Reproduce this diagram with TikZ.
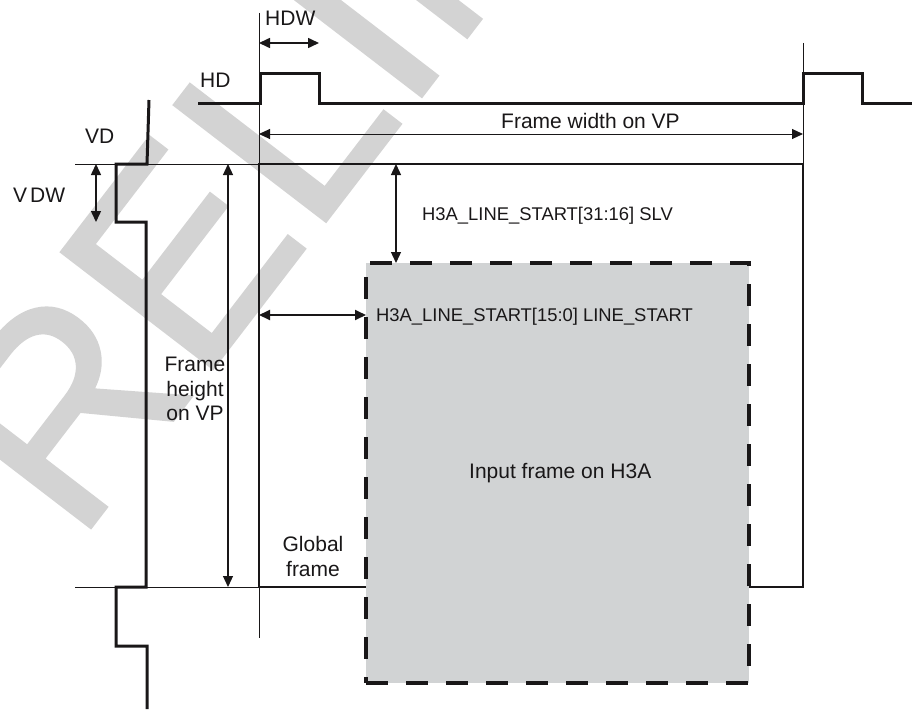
\documentclass[tikz,border=0pt]{standalone}
\usepackage{fontspec}
\setmainfont{Liberation Sans}
\newfontfamily\wmfont[FakeBold=1]{Liberation Sans}
\usetikzlibrary{arrows.meta}
\definecolor{wmgray}{RGB}{211,211,211}
\definecolor{boxgray}{RGB}{209,211,212}
\definecolor{ink}{RGB}{25,23,24}
\begin{document}
\begin{tikzpicture}[x=1pt,y=-1pt,
  thinln/.style={draw=ink,line width=1pt},
  frameln/.style={draw=ink,line width=2pt},
  wave/.style={draw=ink,line width=3pt,line join=miter},
  dimarrow/.style={draw=ink,line width=1.2pt,
     {Triangle[length=11pt,width=10pt]}-{Triangle[length=11pt,width=10pt]}},
  lbl/.style={inner sep=0pt,text=ink,font=\fontsize{21}{24.7}\selectfont},
  slbl/.style={inner sep=0pt,text=ink,font=\fontsize{18.4}{22}\selectfont},
  wmark/.style={rotate=52.5,anchor=base west,inner sep=0pt,text=wmgray,
     font=\wmfont\fontsize{278}{278}\selectfont},
  inbox/.style={fill=boxgray,draw=ink,line width=4pt,dash pattern=on 22pt off 18pt,
     inner sep=0pt,outer sep=0pt,minimum width=383pt,minimum height=420pt,anchor=north west}
]
\useasboundingbox (0,0) rectangle (912,709);
% watermark
\begin{scope}
\clip (0,0) rectangle (912,709);
\node[wmark] (wm) at (-36,693) {PRELIMINARY};
\end{scope}

% key points
\coordinate (ftl) at (259,164);
\coordinate (ftr) at (803,164);
\coordinate (fbl) at (259,587);
\coordinate (fbr) at (803,587);
\coordinate (vtop) at (259,13);
\coordinate (vbot) at (259,638);
\coordinate (rtop) at (803,43);
\coordinate (htl) at (75,164);
\coordinate (hbl) at (75,587);

% input frame box
\node[inbox] (h3a) at (366,263) {};
\node[lbl,anchor=base west] (h3atxt) at (469,478.5) {Input frame on H3A};

% thin guide lines
\draw[thinln] (vtop) -- (ftl);
\draw[thinln] (fbl) -- (vbot);
\draw[thinln] (rtop) -- (ftr);
\draw[thinln] (htl) -- (ftl);
\draw[thinln] (hbl) -- (fbl);

% global frame
\draw[frameln] (h3a.west |- fbl) -- (fbl) -- (ftl) -- (ftr) -- (fbr) -- (h3a.east |- fbr);

% HD waveform
\coordinate (hd0) at (198,103);
\coordinate (hd9) at (912,103);
\draw[wave] (hd0) -- (260,103) -- (260,73) -- (319,73) -- (319,103) -- (803,103)
  -- (803,73) -- (862,73) -- (862,103) -- (hd9);

% VD waveform
\coordinate (vd0) at (149,100);
\coordinate (vd9) at (147,709);
\draw[wave] (vd0) -- (147,164) -- (116,164) -- (116,222) -- (146,222) -- (146,587)
  -- (116,587) -- (116,646) -- (147,646) -- (vd9);

% dimension arrows
\coordinate (hdwA) at (259,43);
\coordinate (hdwB) at (319,43);
\draw[dimarrow,line width=1.6pt] (hdwA) -- (hdwB);
\coordinate (fwA) at (259,134);
\coordinate (fwB) at (803,134);
\draw[dimarrow,line width=1pt] (fwA) -- (fwB);
\coordinate (vdwA) at (96,164);
\coordinate (vdwB) at (96,222);
\draw[dimarrow,line width=1.5pt] (vdwA) -- (vdwB);
\coordinate (fhA) at (228,164);
\coordinate (fhB) at (228,587);
\draw[dimarrow] (fhA) -- (fhB);
\coordinate (slvA) at (396,164);
\draw[dimarrow,line width=1.3pt] (slvA) -- (h3a.north -| slvA);
\coordinate (lsA) at (259,315);
\draw[dimarrow,line width=1.8pt] (lsA) -- (h3a.west |- lsA);

% labels
\node[lbl,anchor=base west] (hdw) at (265,26) {HDW};
\node[lbl,anchor=base west] (hd) at (200,87) {HD};
\node[lbl,anchor=base west] (vd) at (85,143) {VD};
\node[lbl,anchor=base west] (vdw) at (13,202) {V\kern3pt DW};
\node[lbl,anchor=base west] (fw) at (501,128) {Frame width on VP};
\node[slbl,anchor=base west] (slv) at (422,220) {H3A\_LINE\_START[31:16] SLV};
\node[slbl,anchor=base west] (lst) at (376,321.5) {H3A\_LINE\_START[15:0] LINE\_START};
\node[lbl,align=center,anchor=center] (fh) at (195,389) {Frame\\height\\on VP};
\node[lbl,align=center,anchor=north] (gf) at (313,536.5) {Global\\frame};
\end{tikzpicture}
\end{document}
